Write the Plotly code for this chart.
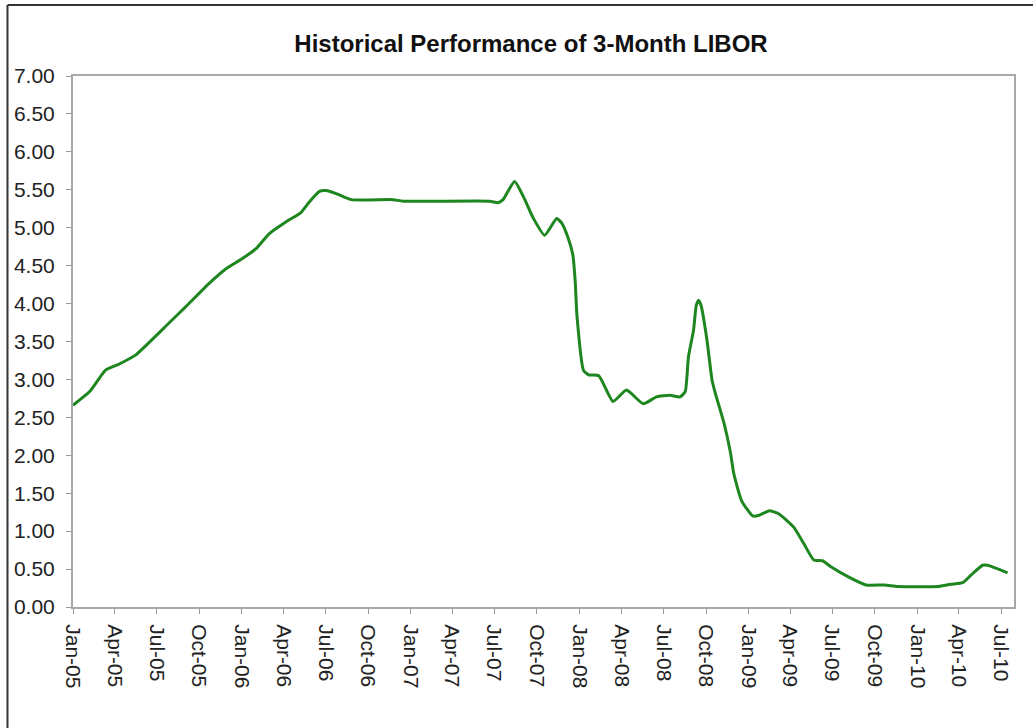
import plotly.graph_objects as go

dates = [
    "2005-01-01", "2005-02-06", "2005-03-12", "2005-04-10", "2005-05-16", "2005-07-27",
    "2005-09-02", "2005-10-23", "2005-11-28", "2006-01-04", "2006-02-02", "2006-03-01",
    "2006-04-07", "2006-05-09", "2006-05-27", "2006-06-18", "2006-07-02", "2006-07-24",
    "2006-08-26", "2006-11-24", "2006-12-16", "2007-06-21", "2007-07-09", "2007-07-20",
    "2007-08-14", "2007-09-02", "2007-09-24", "2007-10-18", "2007-11-13", "2007-11-24",
    "2007-12-08", "2007-12-18", "2007-12-23", "2007-12-27", "2008-01-10", "2008-01-21",
    "2008-02-12", "2008-03-14", "2008-04-12", "2008-05-18", "2008-06-16", "2008-07-15",
    "2008-08-06", "2008-08-17", "2008-08-24", "2008-09-04", "2008-09-10", "2008-09-15",
    "2008-09-20", "2008-10-03", "2008-10-14", "2008-10-21", "2008-11-09", "2008-11-23",
    "2008-11-30", "2008-12-17", "2009-01-10", "2009-01-24", "2009-02-15", "2009-03-07",
    "2009-04-09", "2009-04-30", "2009-05-22", "2009-06-10", "2009-06-28", "2009-08-10",
    "2009-09-12", "2009-10-22", "2009-11-20", "2010-02-15", "2010-03-14", "2010-04-09",
    "2010-04-27", "2010-05-22", "2010-06-02", "2010-07-15",
]
libor = [
    2.66, 2.84, 3.12, 3.20, 3.32, 3.74,
    3.96, 4.27, 4.46, 4.60, 4.73, 4.92,
    5.08, 5.20, 5.34, 5.48, 5.49, 5.45,
    5.37, 5.37, 5.35, 5.35, 5.33, 5.37,
    5.61, 5.41, 5.12, 4.90, 5.12, 5.06,
    4.86, 4.64, 4.30, 3.83, 3.12, 3.06,
    3.05, 2.71, 2.86, 2.68, 2.77, 2.79,
    2.77, 2.84, 3.30, 3.65, 3.98, 4.04,
    3.98, 3.52, 2.99, 2.82, 2.42, 2.03,
    1.76, 1.40, 1.20, 1.21, 1.27, 1.23,
    1.05, 0.84, 0.62, 0.61, 0.53, 0.38,
    0.29, 0.29, 0.27, 0.27, 0.30, 0.32,
    0.42, 0.55, 0.55, 0.45,
]

tick_dates = [
    "2005-01-01", "2005-04-01", "2005-07-01", "2005-10-01",
    "2006-01-01", "2006-04-01", "2006-07-01", "2006-10-01",
    "2007-01-01", "2007-04-01", "2007-07-01", "2007-10-01",
    "2008-01-01", "2008-04-01", "2008-07-01", "2008-10-01",
    "2009-01-01", "2009-04-01", "2009-07-01", "2009-10-01",
    "2010-01-01", "2010-04-01", "2010-07-01",
]
tick_labels = [
    "Jan-05", "Apr-05", "Jul-05", "Oct-05", "Jan-06", "Apr-06", "Jul-06", "Oct-06",
    "Jan-07", "Apr-07", "Jul-07", "Oct-07", "Jan-08", "Apr-08", "Jul-08", "Oct-08",
    "Jan-09", "Apr-09", "Jul-09", "Oct-09", "Jan-10", "Apr-10", "Jul-10",
]
y_ticks = [0.0, 0.5, 1.0, 1.5, 2.0, 2.5, 3.0, 3.5, 4.0, 4.5, 5.0, 5.5, 6.0, 6.5, 7.0]

font_family = "Liberation Sans, Arial, sans-serif"

fig = go.Figure()
fig.add_trace(go.Scatter(
    x=dates, y=libor, mode="lines",
    line=dict(color="#1e861e", width=3, shape="spline", smoothing=0.5),
    hoverinfo="x+y", showlegend=False,
))

W, H = 1033, 728
L, R, T, B = 73, 1014, 76, 607

fig.update_layout(
    width=W, height=H,
    margin=dict(l=L, r=W - R, t=T, b=H - B, autoexpand=False),
    paper_bgcolor="white", plot_bgcolor="white",
    title=dict(
        text="<b>Historical Performance of 3-Month LIBOR</b>",
        x=531 / W, xanchor="center", y=1 - 44 / H, yanchor="middle",
        font=dict(family=font_family, size=24, color="#111"),
    ),
    font=dict(family=font_family, size=21, color="#222"),
    xaxis=dict(
        type="date", range=["2005-01-01", "2010-07-29"],
        tickmode="array", tickvals=tick_dates, ticktext=tick_labels,
        tickangle=90, ticks="outside", ticklen=5, tickcolor="#999",
        ticklabelstandoff=6,
        showline=True, linecolor="#a8a8a8", linewidth=2, mirror=True,
        showgrid=False, zeroline=False,
        tickfont=dict(family=font_family, size=21, color="#222"),
    ),
    yaxis=dict(
        range=[0, 7], tickmode="array", tickvals=y_ticks, tickformat=".2f",
        ticks="outside", ticklen=5, tickcolor="#999",
        ticklabelstandoff=7,
        showline=True, linecolor="#a8a8a8", linewidth=2, mirror=True,
        showgrid=False, zeroline=False,
        tickfont=dict(family=font_family, size=21, color="#222"),
    ),
)

pw, ph = R - L, B - T
def px(xp):
    return (xp - L) / pw
def py(yp):
    return (B - yp) / ph

fig.add_shape(type="line", xref="paper", yref="paper",
              x0=px(7.5), x1=px(W + 2), y0=py(5), y1=py(5),
              line=dict(color="#333", width=2))
fig.add_shape(type="line", xref="paper", yref="paper",
              x0=px(7.5), x1=px(7.5), y0=py(5), y1=py(H + 2),
              line=dict(color="#333", width=2))

fig.write_html("out.html",
               config={"displayModeBar": False},
               post_script="document.body.style.margin='0';document.body.style.overflow='hidden';")
